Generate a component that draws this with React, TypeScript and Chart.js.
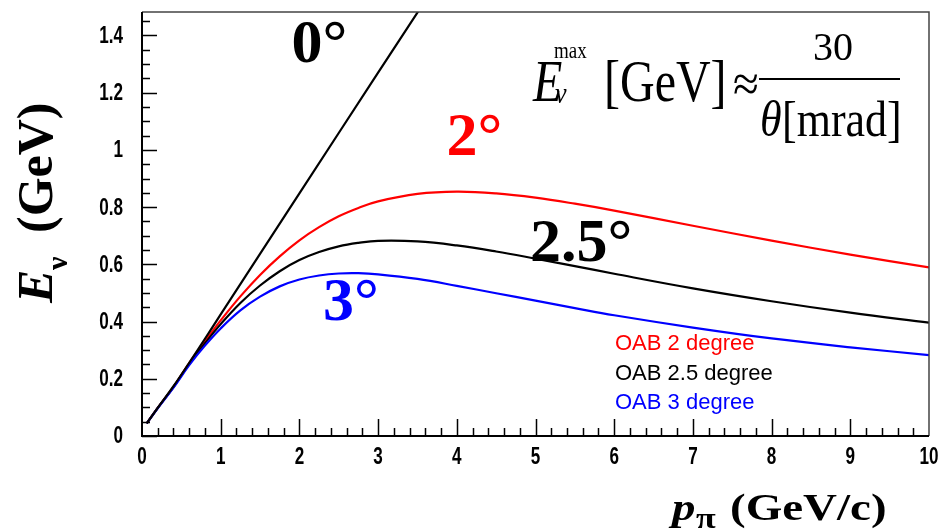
import React, { useEffect, useRef } from 'react';
import { Chart, registerables } from 'chart.js';

Chart.register(...registerables);

// ---- data ----
const momentum = [0.06, 0.2, 0.4, 0.6, 0.8, 1.0, 1.25, 1.5, 1.75, 2.0, 2.25, 2.5, 2.75, 3.0, 3.5, 4.0, 4.5, 5, 5.5, 6, 7, 8, 9, 10];
const onAxisMomentum = [0.06, 0.2, 0.4, 0.6, 0.8, 1.0, 2.0, 3.0, 3.6];
const onAxisEnergy = [0.044, 0.098, 0.174, 0.256, 0.34, 0.425, 0.848, 1.27, 1.522];
const oab2Energy = [0.044, 0.098, 0.172, 0.255, 0.331, 0.404, 0.488, 0.563, 0.628, 0.684, 0.730, 0.768, 0.797, 0.820, 0.846, 0.854, 0.848, 0.833, 0.812, 0.788, 0.735, 0.683, 0.634, 0.589];
const oab25Energy = [0.044, 0.098, 0.171, 0.252, 0.324, 0.391, 0.465, 0.526, 0.576, 0.615, 0.643, 0.663, 0.675, 0.682, 0.680, 0.666, 0.645, 0.620, 0.594, 0.567, 0.516, 0.471, 0.431, 0.396];
const oab3Energy = [0.044, 0.097, 0.169, 0.248, 0.316, 0.376, 0.439, 0.487, 0.523, 0.547, 0.561, 0.568, 0.569, 0.565, 0.549, 0.525, 0.499, 0.473, 0.447, 0.422, 0.379, 0.341, 0.310, 0.283];

const xTickLabels = ['0', '1', '2', '3', '4', '5', '6', '7', '8', '9', '10'];
const yTickLabels = ['0', '0.2', '0.4', '0.6', '0.8', '1', '1.2', '1.4'];
const legendLabels = ['OAB 2 degree', 'OAB 2.5 degree', 'OAB 3 degree'];
const legendColors = ['#ff0000', '#000000', '#0000ff'];
const angleLabels = ['0°', '2°', '2.5°', '3°'];

const X_MAX = 10;
const Y_MAX = 1.482;

const SANS = '"Liberation Sans", Arial, sans-serif';
const SERIF = '"Liberation Serif", "Times New Roman", serif';

function txt(ctx: CanvasRenderingContext2D, text: string, x: number, y: number, font: string, color: string,
  align: CanvasTextAlign = 'left', sx = 1, sy = 1, baseline: CanvasTextBaseline = 'alphabetic') {
  ctx.save();
  ctx.font = font;
  ctx.fillStyle = color;
  ctx.textAlign = align;
  ctx.textBaseline = baseline;
  ctx.translate(x, y);
  ctx.scale(sx, sy);
  ctx.fillText(text, 0, 0);
  ctx.restore();
}

const decorPlugin = {
  id: 'rootDecor',
  afterDraw(chart: any) {
    const ctx: CanvasRenderingContext2D = chart.ctx;
    const xs = chart.scales.x;
    const ys = chart.scales.y;
    const { left, right, top, bottom } = chart.chartArea;
    ctx.save();

    // frame
    ctx.strokeStyle = '#444';
    ctx.lineWidth = 1.5;
    ctx.beginPath();
    ctx.moveTo(left, top); ctx.lineTo(right, top); ctx.lineTo(right, bottom);
    ctx.stroke();
    ctx.strokeStyle = '#000';
    ctx.lineWidth = 2;
    ctx.beginPath();
    ctx.moveTo(left, top); ctx.lineTo(left, bottom); ctx.lineTo(right, bottom);
    ctx.stroke();

    // ticks (inward, ROOT style)
    ctx.lineWidth = 1.5;
    ctx.beginPath();
    for (let i = 0; i <= 29; i++) {
      const v = i * 0.05;
      const py = Math.round(ys.getPixelForValue(v)) + 0.5;
      const len = i % 4 === 0 ? 15 : 8;
      ctx.moveTo(left, py); ctx.lineTo(left + len, py);
    }
    for (let i = 1; i < 50; i++) {
      const v = i * 0.2;
      const px = Math.round(xs.getPixelForValue(v)) + 0.5;
      const len = i % 5 === 0 ? 17 : 8;
      ctx.moveTo(px, bottom); ctx.lineTo(px, bottom - len);
    }
    ctx.stroke();

    // tick labels
    yTickLabels.forEach((lab, i) => {
      const py = ys.getPixelForValue(i * 0.2);
      txt(ctx, lab, left - 19, py + 1, `bold 18px ${SANS}`, '#000', 'right', 0.95, 1.3, 'middle');
    });
    xTickLabels.forEach((lab, i) => {
      const px = xs.getPixelForValue(i);
      txt(ctx, lab, px, 458, `bold 18px ${SANS}`, '#000', 'center', 0.95, 1.3, 'middle');
    });

    // y title  E_nu (GeV)
    ctx.save();
    ctx.translate(52, 303);
    ctx.rotate(-Math.PI / 2);
    txt(ctx, 'E', 0, 0, `italic bold 50px ${SERIF}`, '#000');
    txt(ctx, 'ν', 33, 15, `bold 30px ${SERIF}`, '#000');
    txt(ctx, '(GeV)', 70, 0, `bold 50px ${SERIF}`, '#000');
    ctx.restore();

    // x title  p_pi (GeV/c)
    txt(ctx, 'p', 672, 520, `italic bold 47px ${SERIF}`, '#000', 'left', 1, 0.82);
    txt(ctx, 'π', 696, 528, `bold 36px ${SERIF}`, '#000', 'left', 1, 0.8);
    txt(ctx, '(GeV/c)', 730, 520, `bold 47px ${SERIF}`, '#000', 'left', 1, 0.82);

    // angle labels
    const angPos = [
      { x: 1.9, y: 1.307, c: '#000' },
      { x: 3.87, y: 0.982, c: '#ff0000' },
      { x: 4.93, y: 0.611, c: '#000' },
      { x: 2.3, y: 0.407, c: '#0000ff' },
    ];
    angleLabels.forEach((lab, i) => {
      const a = angPos[i];
      txt(ctx, lab, xs.getPixelForValue(a.x), ys.getPixelForValue(a.y), `bold 62px ${SERIF}`, a.c);
    });

    // legend text
    legendLabels.forEach((lab, i) => {
      txt(ctx, lab, 615, 350 + i * 29.5, `22px ${SANS}`, legendColors[i]);
    });

    // formula
    txt(ctx, 'E', 533, 101, `italic 48px ${SERIF}`, '#000', 'left', 1, 1.22);
    txt(ctx, 'max', 554, 58, `19px ${SERIF}`, '#000', 'left', 1, 1.25);
    txt(ctx, 'ν', 555, 103, `italic 26px ${SERIF}`, '#000', 'left', 1, 1.1);
    txt(ctx, '[GeV]', 604, 101, `48px ${SERIF}`, '#000', 'left', 1, 1.22);
    txt(ctx, '≈', 733, 101, `47px ${SERIF}`, '#000', 'left', 1, 1.1);
    ctx.strokeStyle = '#000';
    ctx.lineWidth = 2;
    ctx.beginPath();
    ctx.moveTo(759, 79); ctx.lineTo(900, 79);
    ctx.stroke();
    txt(ctx, '30', 833, 60, `40px ${SERIF}`, '#000', 'center', 1, 1.0);
    txt(ctx, 'θ', 760, 136, `italic 44px ${SERIF}`, '#000', 'left', 1, 1.15);
    txt(ctx, '[mrad]', 782, 136, `44px ${SERIF}`, '#000', 'left', 1, 1.15);

    ctx.restore();
  },
};

function pts(xsArr: number[], ysArr: number[]) {
  return xsArr.map((x, i) => ({ x, y: ysArr[i] }));
}

export default function App() {
  const ref = useRef<HTMLCanvasElement | null>(null);

  useEffect(() => {
    if (!ref.current) return;
    const chart = new Chart(ref.current, {
      type: 'line',
      data: {
        datasets: [
          { label: '0 degree', data: pts(onAxisMomentum, onAxisEnergy), borderColor: '#000000' },
          { label: 'OAB 3 degree', data: pts(momentum, oab3Energy), borderColor: '#0000ff' },
          { label: 'OAB 2.5 degree', data: pts(momentum, oab25Energy), borderColor: '#000000' },
          { label: 'OAB 2 degree', data: pts(momentum, oab2Energy), borderColor: '#ff0000' },
        ],
      },
      options: {
        responsive: false,
        animation: false,
        devicePixelRatio: 1,
        layout: { padding: { left: 142, top: 12, right: 14, bottom: 93 } },
        elements: {
          line: { borderWidth: 2.2, tension: 0.4, fill: false },
          point: { radius: 0 },
        },
        scales: {
          x: { type: 'linear', display: false, min: 0, max: X_MAX },
          y: { type: 'linear', display: false, min: 0, max: Y_MAX },
        },
        plugins: { legend: { display: false }, tooltip: { enabled: false } },
      },
      plugins: [decorPlugin],
    } as any);
    return () => chart.destroy();
  }, []);

  return (
    <div style={{ position: 'fixed', left: 0, top: 0, width: 943, height: 529, background: '#fff' }}>
      <canvas ref={ref} width={943} height={529} style={{ display: 'block', width: 943, height: 529 }} />
    </div>
  );
}
